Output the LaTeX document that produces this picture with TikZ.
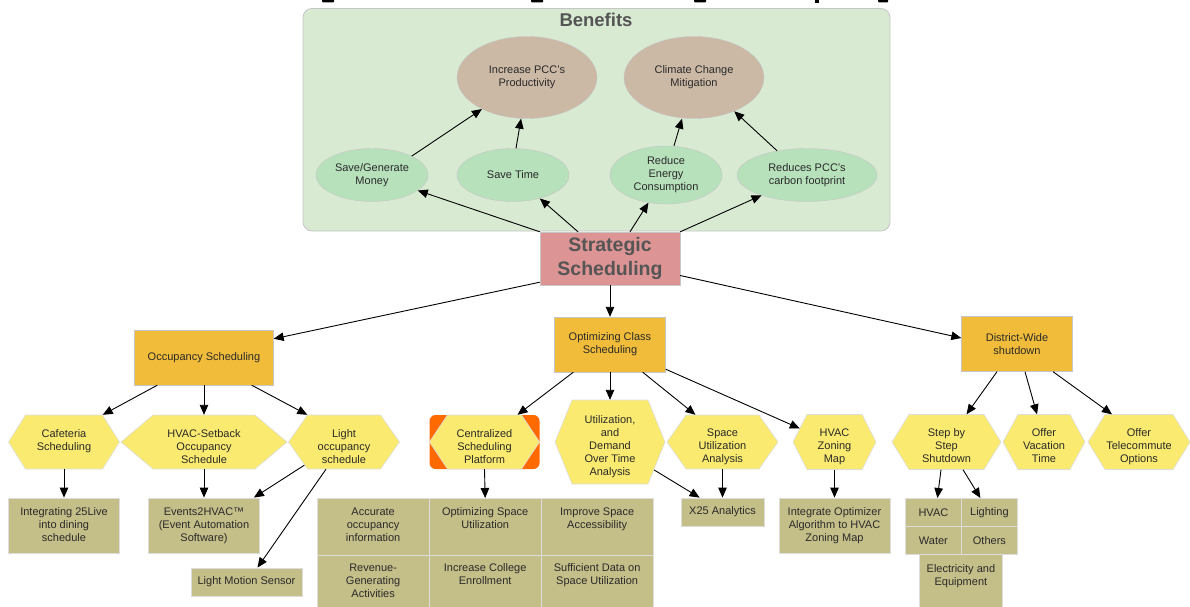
\documentclass[tikz,border=0pt]{standalone}
\usepackage{fontspec}
\setmainfont{Liberation Sans}
\usetikzlibrary{arrows.meta,shapes.geometric}

\definecolor{panelgreen}{HTML}{D9EAD3}
\definecolor{framegray}{HTML}{C6C6C6}
\definecolor{taupe}{HTML}{CBB9A5}
\definecolor{mint}{HTML}{B7E1BB}
\definecolor{rose}{HTML}{DD9494}
\definecolor{amber}{HTML}{F1BC3A}
\definecolor{lemon}{HTML}{FAEB70}
\definecolor{khaki}{HTML}{C4BE88}
\definecolor{flame}{HTML}{FF6A00}
\definecolor{ink}{HTML}{2A2A2A}
\definecolor{titlegray}{HTML}{555555}
\definecolor{seam}{HTML}{DDDDDD}

\tikzset{
  lbl/.style={font=\fontsize{11}{13}\selectfont, text=ink, align=center},
  conn/.style={draw=black, line width=0.9pt, -{Triangle[length=10pt,width=8.5pt]}},
  mainbox/.style={lbl, draw=framegray, fill=amber, inner sep=0pt},
  khakibox/.style={lbl, draw=seam, line width=0.8pt, fill=khaki, inner sep=0pt},
  goal/.style={lbl, ellipse, fill=taupe, draw=framegray, inner sep=0pt},
  gain/.style={lbl, ellipse, fill=mint, draw=framegray, inner sep=0pt},
  hexshape/.style={fill=lemon, draw=seam, line width=0.6pt},
  hexframe/.style={inner sep=0pt, draw=none},
  toptext/.style={lbl, inner sep=0pt, anchor=north},
}

% hexagon: name, x, y, width, height, slant inset, text offset from top, text
\newcommand\hexa[8]{%
  \path[hexshape] (#2-#4/2,#3) -- (#2-#4/2+#6,#3-#5/2) -- (#2+#4/2-#6,#3-#5/2)
    -- (#2+#4/2,#3) -- (#2+#4/2-#6,#3+#5/2) -- (#2-#4/2+#6,#3+#5/2) -- cycle;
  \node[hexframe, minimum width=#4, minimum height=#5] (#1) at (#2,#3) {};
  \node[toptext] (#1-text) at (#2,#3-#5/2+#7) {#8};
}

\begin{document}
\begin{tikzpicture}[x=1pt,y=-1pt]
\useasboundingbox (0,0) rectangle (1190,607);
\clip (0,0) rectangle (1190,607);

% descenders of the heading line above the panel
\fill[black, rounded corners=1] (322,-2) rectangle (334,2.5);
\fill[black, rounded corners=1] (531,-2) rectangle (543,2.5);
\fill[black, rounded corners=1] (694,-2) rectangle (706,2.5);
\fill[black] (815,-2) rectangle (818.5,3);
\fill[black, rounded corners=1] (878,-2) rectangle (888,2.5);

% ---------- Benefits panel ----------
\draw[fill=panelgreen, draw=framegray, line width=0.8pt, rounded corners=9] (303,8.5) rectangle (890,231);
\node[font=\bfseries\fontsize{18.5}{20}\selectfont, text=titlegray] (bentitle) at (596,20) {Benefits};

\node[goal, minimum width=140, minimum height=82] (productivity) at (527,77.5) {Increase PCC's\\Productivity};
\node[goal, minimum width=140, minimum height=82] (climate) at (694,77.5) {Climate Change\\Mitigation};

\node[gain, minimum width=112, minimum height=53] (money) at (372,175) {Save/Generate\\Money};
\node[gain, minimum width=112, minimum height=53] (savetime) at (513,175) {Save Time};
\node[gain, minimum width=112, minimum height=58] (energy) at (666,175) {Reduce\\Energy\\Consumption};
\node[gain, minimum width=140, minimum height=53] (footprint) at (807,175) {Reduces PCC's\\carbon footprint};

% ---------- root ----------
\node[draw=framegray, fill=rose, minimum width=140, minimum height=53, inner sep=0pt,
      font=\bfseries\fontsize{19.5}{24}\selectfont, text=titlegray, align=center]
      (strat) at (610,258.5) {Strategic\\Scheduling};

% ---------- second level ----------
\node[mainbox, minimum width=139, minimum height=55] (occ) at (204,357.5) {Occupancy Scheduling};
\node[mainbox, minimum width=111, minimum height=55] (opt) at (610,344.5) {Optimizing Class\\Scheduling};
\node[mainbox, minimum width=111, minimum height=55] (dist) at (1017,344) {District-Wide\\shutdown};

% ---------- hexagons ----------
\hexa{caf}{64}{442}{111}{54}{17}{14}{Cafeteria\\Scheduling}
\hexa{hvacsb}{204}{442}{166}{54}{32}{14}{HVAC-Setback\\Occupancy\\Schedule}
\hexa{lightocc}{344}{442}{111}{54}{19}{14}{Light\\occupancy\\schedule}
\fill[flame, rounded corners=6] (429.5,415) rectangle (539.5,469);
\hexa{central}{484.5}{442}{110}{54}{18}{14}{Centralized\\Scheduling\\Platform}
\hexa{util}{610}{442}{110}{84}{17}{15}{Utilization,\\and\\Demand\\Over Time\\Analysis}
\hexa{spaceua}{722.5}{442}{111}{54}{19}{14}{Space\\Utilization\\Analysis}
\hexa{zoning}{834.5}{442}{83}{55}{14}{14}{HVAC\\Zoning\\Map}
\hexa{stepdown}{946.5}{442}{109}{55}{17}{14}{Step by\\Step\\Shutdown}
\hexa{vacation}{1044}{442}{82}{55}{15}{14}{Offer\\Vacation\\Time}
\hexa{telecommute}{1139}{442}{102}{55}{17}{14}{Offer\\Telecommute\\Options}

% ---------- outcome boxes ----------
\node[khakibox, minimum width=111, minimum height=55] (integ) at (64,525.5) {};
\node[toptext] (integ-text) at (64,507.5) {Integrating 25Live\\into dining\\schedule};
\node[khakibox, minimum width=111, minimum height=55] (events) at (204,525.5) {};
\node[toptext] (events-text) at (204,507.5) {Events2HVAC™\\(Event Automation\\Software)};
\node[khakibox, minimum width=111, minimum height=28] (motion) at (246.5,582) {Light Motion Sensor};

% space-use grid
\node[khakibox, minimum width=111.5, minimum height=56.5, anchor=north west] (c11) at (317,498) {};
\node[khakibox, minimum width=112.5, minimum height=56.5, anchor=north west] (c12) at (428.5,498) {};
\node[khakibox, minimum width=111.5, minimum height=56.5, anchor=north west] (c13) at (541,498) {};
\node[khakibox, minimum width=111.5, minimum height=58, anchor=north west] (c21) at (317,554.5) {};
\node[khakibox, minimum width=112.5, minimum height=58, anchor=north west] (c22) at (428.5,554.5) {};
\node[khakibox, minimum width=111.5, minimum height=58, anchor=north west] (c23) at (541,554.5) {};
\node[toptext] (c11-text) at ([yshift=-9.5pt]c11.north) {Accurate\\occupancy\\information};
\node[toptext] (c12-text) at ([yshift=-9.5pt]c12.north) {Optimizing Space\\Utilization};
\node[toptext] (c13-text) at ([yshift=-9.5pt]c13.north) {Improve Space\\Accessibility};
\node[toptext] (c21-text) at ([yshift=-9pt]c21.north) {Revenue-\\Generating\\Activities};
\node[toptext] (c22-text) at ([yshift=-9pt]c22.north) {Increase College\\Enrollment};
\node[toptext] (c23-text) at ([yshift=-9pt]c23.north) {Sufficient Data on\\Space Utilization};

\node[khakibox, minimum width=83, minimum height=28] (x25) at (722.5,512) {X25 Analytics};
\node[khakibox, minimum width=111, minimum height=55] (intopt) at (834.5,525.5) {};
\node[toptext] (intopt-text) at (834.5,507.5) {Integrate Optimizer\\Algorithm to HVAC\\Zoning Map};

% shutdown targets
\node[khakibox, minimum width=56, minimum height=28, anchor=north west] (hvcell) at (905,498) {HVAC};
\node[khakibox, minimum width=56, minimum height=28, anchor=north west] (lgcell) at (961,498) {Lighting};
\node[khakibox, minimum width=56, minimum height=28, anchor=north west] (wtcell) at (905,526) {Water};
\node[khakibox, minimum width=56, minimum height=28, anchor=north west] (otcell) at (961,526) {Others};
\node[khakibox, minimum width=83, minimum height=58, anchor=north west] (elcell) at (919,554) {};
\node[toptext] (elcell-text) at ([yshift=-10pt]elcell.north) {Electricity and\\Equipment};

% ---------- connectors ----------
\draw[conn] (strat.north west) -- (money);
\draw[conn] ([xshift=-32pt]strat.north) -- (savetime);
\draw[conn] ([xshift=20pt]strat.north) -- (energy);
\draw[conn] (strat.north east) -- (footprint);
\draw[conn] (money.north east) -- (productivity.-145);
\draw[conn] ([xshift=3pt]savetime.north) -- ([xshift=-6pt]productivity.south);
\draw[conn] ([xshift=8pt]energy.north) -- ([xshift=-12pt]climate.south);
\draw[conn] (footprint.141) -- (climate.-40);

\draw[conn] ([yshift=3pt]strat.south west) -- ([yshift=-9pt]occ.north east);
\draw[conn] (strat.south) -- (opt.north);
\draw[conn] ([yshift=-17pt]strat.east) -- ([yshift=6pt]dist.west);

\draw[conn] ([xshift=23pt]occ.south west) -- ([xshift=-17pt]caf.north east);
\draw[conn] (occ.south) -- (hvacsb.north);
\draw[conn] ([xshift=-22pt]occ.south east) -- ([xshift=19pt]lightocc.north west);
\draw[conn] (caf.south) -- (integ.north);
\draw[conn] (hvacsb.south) -- (events.north);
\draw[conn] ([xshift=16pt,yshift=4pt]lightocc.south west) -- ([xshift=-6pt]events.north east);
\draw[conn] ([xshift=-18pt]lightocc.south) -- ([xshift=11pt]motion.north);

\draw[conn] ([xshift=19pt]opt.south west) -- ([xshift=33pt]central.north);
\draw[conn] (opt.south) -- (util.north);
\draw[conn] ([xshift=-23pt]opt.south east) -- ([xshift=-27pt]spaceua.north);
\draw[conn] ([yshift=3pt]opt.south east) -- ([xshift=7pt,yshift=13.5pt]zoning.west);
\draw[conn] (central.south) -- (c12.north);
\draw[conn] ([xshift=-11pt,yshift=-28pt]util.east) -- ([xshift=19pt]x25.north west);
\draw[conn] (spaceua.south) -- (x25.north);
\draw[conn] (zoning.south) -- (intopt.north);

\draw[conn] ([xshift=-20pt]dist.south) -- ([xshift=20pt]stepdown.north);
\draw[conn] ([xshift=8pt]dist.south) -- ([xshift=-7pt]vacation.north);
\draw[conn] ([xshift=36pt]dist.south) -- ([xshift=-27pt]telecommute.north);
\draw[conn] ([xshift=-5.5pt]stepdown.south) -- ([xshift=4pt]hvcell.north);
\draw[conn] ([xshift=16.5pt]stepdown.south) -- ([xshift=-9pt]lgcell.north);
\end{tikzpicture}
\end{document}
